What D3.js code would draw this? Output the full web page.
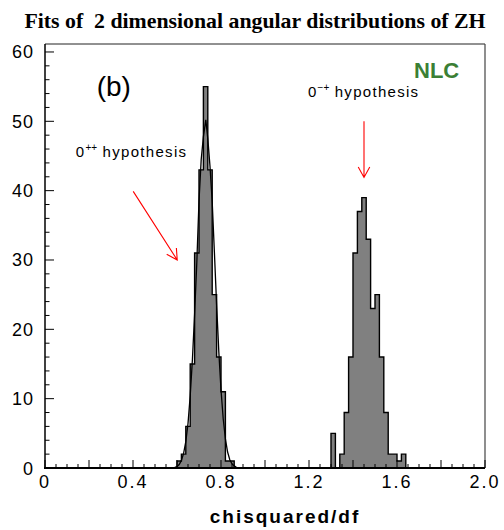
<!DOCTYPE html>
<html>
<head>
<meta charset="utf-8">
<script src="https://cdn.jsdelivr.net/npm/d3@7"></script>
<style>
  html, body { margin: 0; padding: 0; background: #fff; }
  svg { display: block; }
</style>
</head>
<body>
<svg id="chart" width="504" height="530"></svg>
<script>
// Bin low edges (bin width 0.02) and entries for the two hypotheses
const binWidth = 0.02;
const binsPP = [0.60, 0.62, 0.64, 0.66, 0.68, 0.70, 0.72, 0.74, 0.76, 0.78, 0.80, 0.82, 0.84];
const countsPP = [1, 2, 6, 15, 31, 43, 55, 43, 25, 16, 11, 1, 1];
const binsMP = [1.30, 1.32, 1.34, 1.36, 1.38, 1.40, 1.42, 1.44, 1.46, 1.48, 1.50, 1.52, 1.54, 1.56, 1.58, 1.60, 1.62];
const countsMP = [5, 0, 2, 8, 16, 31, 37, 39, 33, 23, 25, 16, 8, 2, 2, 1, 2];

// Fitted curve over the 0++ distribution
const fitX = [0.59, 0.60, 0.61, 0.62, 0.63, 0.64, 0.65, 0.66, 0.67, 0.68, 0.69, 0.70, 0.71, 0.72, 0.731,
              0.74, 0.75, 0.76, 0.77, 0.78, 0.79, 0.80, 0.81, 0.82, 0.83, 0.84, 0.85, 0.86, 0.87];
const fitY = [0.1, 0.2, 0.5, 1.1, 2.1, 3.8, 6.4, 10.4, 15.6, 22.2, 29.6, 38.5, 44.5, 47.8, 50.2,
              47.5, 43.5, 38.4, 31.1, 23.6, 16.8, 11.3, 7.1, 4.2, 2.3, 1.2, 0.6, 0.3, 0.1];

// Axis ticks
const xTickLabels = [0, 0.4, 0.8, 1.2, 1.6, 2.0];
const yTickLabels = [0, 10, 20, 30, 40, 50, 60];

const svg = d3.select("#chart");
const W = 504, H = 530;
const m = { left: 45, right: 19, top: 44, bottom: 62 };

const x = d3.scaleLinear().domain([0, 2]).range([m.left, W - m.right]);
const y = d3.scaleLinear().domain([0, 61.15]).range([H - m.bottom, m.top]);

// Title
svg.append("text")
  .attr("x", 255).attr("y", 28)
  .attr("text-anchor", "middle")
  .attr("font-family", "'Liberation Serif', 'Times New Roman', serif")
  .attr("font-weight", "bold")
  .attr("font-size", 21.8)
  .style("white-space", "pre")
  .text("Fits of  2 dimensional angular distributions of ZH");

// Histogram drawn as a filled step outline
function stepPoints(bins, counts) {
  const pts = [[bins[0], 0]];
  bins.forEach((b, i) => {
    pts.push([b, counts[i]]);
    pts.push([b + binWidth, counts[i]]);
  });
  pts.push([bins[bins.length - 1] + binWidth, 0]);
  return pts;
}
const stepLine = d3.line().x(d => x(d[0])).y(d => y(d[1]));

[[binsPP, countsPP], [binsMP, countsMP]].forEach(([b, c]) => {
  svg.append("path")
    .attr("d", stepLine(stepPoints(b, c)) + "Z")
    .attr("fill", "#808080")
    .attr("stroke", "#000")
    .attr("stroke-width", 1.4)
    .attr("stroke-linejoin", "miter");
});

// Fit curve
svg.append("path")
  .datum(fitX.map((v, i) => [v, fitY[i]]))
  .attr("d", d3.line().x(d => x(d[0])).y(d => y(d[1])))
  .attr("fill", "none")
  .attr("stroke", "#000")
  .attr("stroke-width", 1.3);

// Frame
svg.append("line").attr("x1", x(0)).attr("x2", x(2)).attr("y1", y(61.15)).attr("y2", y(61.15))
  .attr("stroke", "#222").attr("stroke-width", 1);
svg.append("line").attr("x1", x(2)).attr("x2", x(2)).attr("y1", y(0)).attr("y2", y(61.15))
  .attr("stroke", "#444").attr("stroke-width", 1.2);

// Bottom axis with inward ticks
const gx = svg.append("g");
d3.range(0, 2.0001, 0.05).forEach(v => {
  const major = Math.abs(v / 0.2 - Math.round(v / 0.2)) < 1e-6;
  gx.append("line")
    .attr("x1", x(v)).attr("x2", x(v))
    .attr("y1", y(0)).attr("y2", y(0) - (major ? 8 : 4))
    .attr("stroke", "#000").attr("stroke-width", 1);
});
gx.append("line").attr("x1", x(0) - 1).attr("x2", x(2)).attr("y1", y(0)).attr("y2", y(0))
  .attr("stroke", "#000").attr("stroke-width", 2);
gx.selectAll("text.xl").data(xTickLabels).enter().append("text")
  .attr("x", d => x(d)).attr("y", y(0) + 20)
  .attr("text-anchor", "middle")
  .attr("font-family", "'Liberation Sans', Arial, sans-serif")
  .attr("font-size", 18)
  .attr("letter-spacing", 2)
  .text(d => d === 0 ? "0" : d.toFixed(1));

svg.append("text")
  .attr("x", 285).attr("y", 523)
  .attr("text-anchor", "middle")
  .attr("font-family", "'Liberation Sans', Arial, sans-serif")
  .attr("font-weight", "bold")
  .attr("font-size", 19)
  .attr("letter-spacing", 2)
  .text("chisquared/df");

// Left axis with inward ticks
const gy = svg.append("g");
d3.range(0, 61, 2).forEach(v => {
  const major = v % 10 === 0;
  gy.append("line")
    .attr("x1", x(0)).attr("x2", x(0) + (major ? 9 : 4.5))
    .attr("y1", y(v)).attr("y2", y(v))
    .attr("stroke", "#000").attr("stroke-width", 1);
});
gy.append("line").attr("x1", x(0)).attr("x2", x(0)).attr("y1", y(0) + 1).attr("y2", y(61.15))
  .attr("stroke", "#000").attr("stroke-width", 1.5);
gy.selectAll("text.yl").data(yTickLabels).enter().append("text")
  .attr("x", 34).attr("y", d => y(d) + 6.5)
  .attr("text-anchor", "end")
  .attr("font-family", "'Liberation Sans', Arial, sans-serif")
  .attr("font-size", 18)
  .attr("letter-spacing", 1)
  .text(d => d);

// Annotations
const sans = "'Liberation Sans', Arial, sans-serif";
svg.append("text")
  .attr("x", x(0.235)).attr("y", y(53.7))
  .attr("font-family", sans).attr("font-size", 28)
  .text("(b)");

svg.append("text")
  .attr("x", 414).attr("y", 78)
  .attr("font-family", sans).attr("font-weight", "bold").attr("font-size", 22)
  .attr("fill", "#3b7f35")
  .text("NLC");

function hypoLabel(xv, yv, sup) {
  const t = svg.append("text")
    .attr("x", x(xv)).attr("y", y(yv))
    .attr("font-family", sans).attr("font-size", 15)
    .attr("letter-spacing", 1.3);
  t.append("tspan").text("0");
  t.append("tspan").attr("font-size", 10).attr("dy", -6).attr("letter-spacing", 0).text(sup);
  t.append("tspan").attr("dy", 6).text(" hypothesis");
}
hypoLabel(0.14, 44.9, "++");
hypoLabel(1.195, 53.5, "\u2212+");

function arrow(x0, y0, x1, y1) {
  const X0 = x(x0), Y0 = y(y0), X1 = x(x1), Y1 = y(y1);
  const a = Math.atan2(Y1 - Y0, X1 - X0);
  const L = 12, spread = 0.5;
  svg.append("path")
    .attr("d", `M${X0},${Y0}L${X1},${Y1}` +
      `M${X1 - L * Math.cos(a - spread)},${Y1 - L * Math.sin(a - spread)}L${X1},${Y1}` +
      `L${X1 - L * Math.cos(a + spread)},${Y1 - L * Math.sin(a + spread)}`)
    .attr("fill", "none").attr("stroke", "#ff0000").attr("stroke-width", 1.1);
}
arrow(0.401, 39.9, 0.601, 30.0);
arrow(1.45, 50.0, 1.45, 41.9);
</script>
</body>
</html>
